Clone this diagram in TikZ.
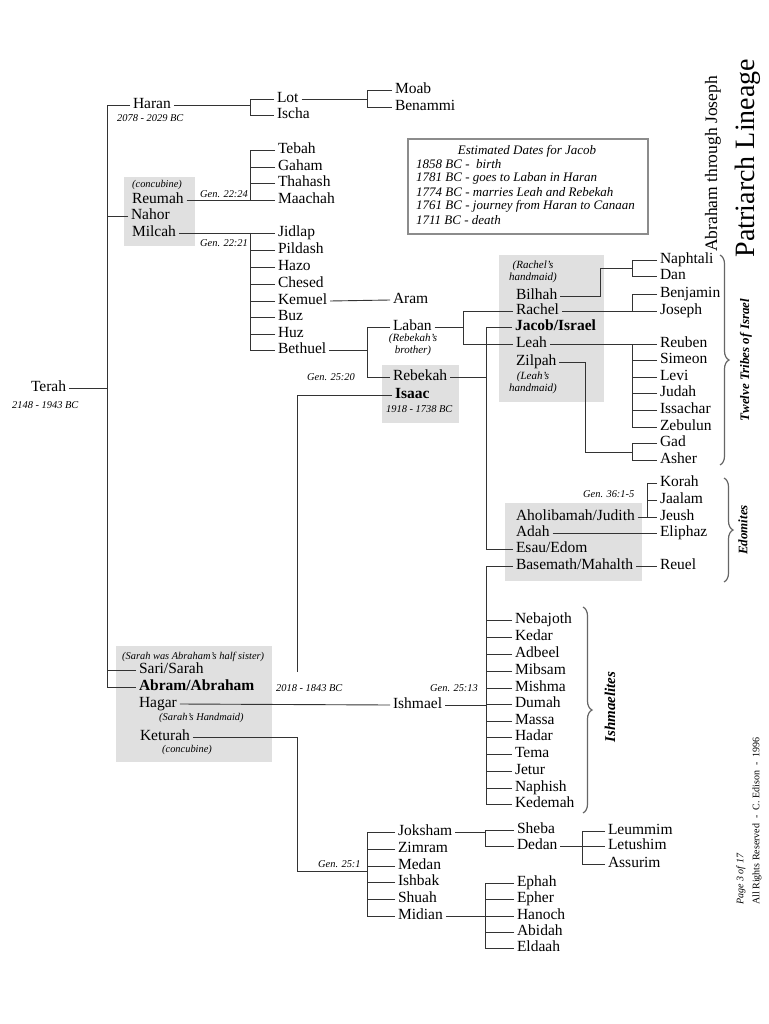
\documentclass[tikz,border=0pt]{standalone}
\usepackage{fontspec}
\setmainfont{Liberation Serif}
\usetikzlibrary{decorations.pathreplacing}
\newcommand\nmfont{\fontsize{15.5}{17}\selectfont}
\newcommand\smfont{\fontsize{10.4}{11}\selectfont\itshape}
\newcommand\mdfont{\fontsize{11}{11.5}\selectfont\itshape}
\begin{document}
\begin{tikzpicture}[x=1pt,y=-1pt,
  nm/.style={font=\nmfont,anchor=west,inner sep=0pt,outer sep=3pt,text height=11pt,text depth=4pt},
  bnm/.style={nm,font=\nmfont\bfseries},
  sm/.style={font=\smfont,anchor=west,inner sep=0pt},
  smc/.style={font=\mdfont,inner sep=0pt,align=center},
  dt/.style={font=\fontsize{13}{14}\selectfont\itshape,anchor=west,inner sep=0pt},
  ln/.style={draw=black!80,line width=0.9pt},
  gbox/.style={fill=black!12},
  brc/.style={draw=black!60,line width=1.2pt,decorate,decoration={brace,amplitude=9pt}},
  blab/.style={font=\fontsize{13}{15}\selectfont\bfseries\itshape,rotate=90,inner sep=0pt}
]
\useasboundingbox[fill=white] (0,0) rectangle (768,1024);

% grey boxes
\fill[gbox] (124,177) rectangle (195,246);
\fill[gbox] (382,365) rectangle (459,423);
\fill[gbox] (499,255) rectangle (604,402);
\fill[gbox] (505,503) rectangle (642,581);
\fill[gbox] (116,646) rectangle (272,762);

% bus x positions
\coordinate (xT) at (107,0);
\coordinate (xH) at (250,0);
\coordinate (xL) at (367,0);
\coordinate (xLa) at (463,0);
\coordinate (xJ) at (486,0);
\coordinate (xR) at (632,0);
\coordinate (xK) at (647,0);
\coordinate (xS) at (485,0);
\coordinate (xD) at (582,0);
\coordinate (isaacEnd) at (297,672);
\coordinate (bilC) at (600,268);
\coordinate (zilC) at (585,452);
\coordinate (ketC) at (297,871);

% title
\node[font=\fontsize{28}{30}\selectfont,rotate=90,inner sep=0pt] (title) at (748,158) {Patriarch Lineage};
\node[font=\fontsize{17.5}{20}\selectfont,rotate=90,inner sep=0pt] (subtitle) at (713,164) {Abraham through Joseph};

% dates box
\node[draw=black!45,line width=1.2pt,minimum width=240pt,minimum height=95pt,inner sep=0pt] (datesbox) at (528,186.5) {};
\node[font=\fontsize{13}{14}\selectfont\itshape,inner sep=0pt] (dt0) at (527,151) {Estimated Dates for Jacob};
\node[dt] (dt1) at (416,164) {1858 BC -\ \ birth};
\node[dt] (dt2) at (416,178) {1781 BC - goes to Laban in Haran};
\node[dt] (dt3) at (416,192) {1774 BC - marries Leah and Rebekah};
\node[dt] (dt4) at (416,206) {1761 BC - journey from Haran to Canaan};
\node[dt] (dt5) at (416,220) {1711 BC - death};

% Terah & Haran
\node[nm] (terah) at (28,388) {Terah};
\node[sm] (terahd) at (12,405) {2148 - 1943 BC};
\node[nm] (haran) at (130,105) {Haran};
\node[sm] (harand) at (117,118) {2078 - 2029 BC};
\node[nm] (lot) at (274,99) {Lot};
\node[nm] (ischa) at (274,115) {Ischa};
\node[nm] (moab) at (392,90) {Moab};
\node[nm] (benammi) at (392,107) {Benammi};

% Nahor
\node[sm] (conc1) at (132,185) {(concubine)};
\node[nm] (reumah) at (129,200) {Reumah};
\node[nm] (nahor) at (128,216) {Nahor};
\node[nm] (milcah) at (129,233) {Milcah};
\node[sm] (gen2224) at (200,194) {Gen. 22:24};
\node[sm] (gen2221) at (200,243) {Gen. 22:21};
\node[nm] (tebah) at (275,150) {Tebah};
\node[nm] (gaham) at (275,167) {Gaham};
\node[nm] (thahash) at (275,183) {Thahash};
\node[nm] (maachah) at (275,200) {Maachah};
\node[nm] (jidlap) at (275,233) {Jidlap};
\node[nm] (pildash) at (275,250) {Pildash};
\node[nm] (hazo) at (275,267) {Hazo};
\node[nm] (chesed) at (275,284) {Chesed};
\node[nm] (kemuel) at (275,301) {Kemuel};
\node[nm] (buz) at (275,317) {Buz};
\node[nm] (huz) at (275,334) {Huz};
\node[nm] (bethuel) at (275,350) {Bethuel};
\node[nm] (aram) at (390,300) {Aram};
\node[nm] (laban) at (390,327) {Laban};
\node[smc] (rebbro) at (413,345) {(Rebekah's\\brother)};
\node[sm] (gen2520) at (307,377) {Gen. 25:20};
\node[nm] (rebekah) at (390,377) {Rebekah};
\node[bnm] (isaac) at (392,395) {Isaac};
\node[sm] (isaacd) at (386,409) {1918 - 1738 BC};

% Jacob
\node[smc] (rachhm) at (533,272) {(Rachel's\\handmaid)};
\node[nm] (bilhah) at (513,296) {Bilhah};
\node[nm] (rachel) at (513,311) {Rachel};
\node[bnm] (jacob) at (512,327) {Jacob/Israel};
\node[nm] (leah) at (513,344) {Leah};
\node[nm] (zilpah) at (513,362) {Zilpah};
\node[smc] (leahhm) at (533,383) {(Leah's\\handmaid)};
\node[nm] (naphtali) at (657,260) {Naphtali};
\node[nm] (dan) at (657,276) {Dan};
\node[nm] (benjamin) at (657,294) {Benjamin};
\node[nm] (joseph) at (657,311) {Joseph};
\node[nm] (reuben) at (657,344) {Reuben};
\node[nm] (simeon) at (657,360) {Simeon};
\node[nm] (levi) at (657,377) {Levi};
\node[nm] (judah) at (657,393) {Judah};
\node[nm] (issachar) at (657,410) {Issachar};
\node[nm] (zebulun) at (657,427) {Zebulun};
\node[nm] (gad) at (657,443) {Gad};
\node[nm] (asher) at (657,460) {Asher};

% Esau
\node[sm] (gen3615) at (583,494) {Gen. 36:1-5};
\node[nm] (aholi) at (513,517) {Aholibamah/Judith};
\node[nm] (adah) at (513,533) {Adah};
\node[nm] (esau) at (513,549) {Esau/Edom};
\node[nm] (basemath) at (513,566) {Basemath/Mahalth};
\node[nm] (korah) at (657,483) {Korah};
\node[nm] (jaalam) at (657,500) {Jaalam};
\node[nm] (jeush) at (657,517) {Jeush};
\node[nm] (eliphaz) at (657,533) {Eliphaz};
\node[nm] (reuel) at (657,566) {Reuel};

% Ishmael
\node[nm] (nebajoth) at (512,620) {Nebajoth};
\node[nm] (kedar) at (512,637) {Kedar};
\node[nm] (adbeel) at (512,654) {Adbeel};
\node[nm] (mibsam) at (512,671) {Mibsam};
\node[nm] (mishma) at (512,688) {Mishma};
\node[nm] (dumah) at (512,704) {Dumah};
\node[nm] (massa) at (512,721) {Massa};
\node[nm] (hadar) at (512,737) {Hadar};
\node[nm] (tema) at (512,754) {Tema};
\node[nm] (jetur) at (512,771) {Jetur};
\node[nm] (naphish) at (512,788) {Naphish};
\node[nm] (kedemah) at (512,804) {Kedemah};
\node[nm] (ishmael) at (390,705) {Ishmael};
\node[sm] (gen2513) at (430,688) {Gen. 25:13};

% Abraham
\node[sm] (halfsis) at (122,657) {(Sarah was Abraham's half sister)};
\node[nm] (sarah) at (136,670) {Sari/Sarah};
\node[bnm] (abraham) at (136,687) {Abram/Abraham};
\node[nm] (hagar) at (136,704) {Hagar};
\node[sm] (sarhm) at (159,718) {(Sarah's Handmaid)};
\node[nm] (keturah) at (137,737) {Keturah};
\node[sm] (conc2) at (162,750) {(concubine)};
\node[sm] (abrd) at (276,688) {2018 - 1843 BC};

% Keturah
\node[sm] (gen251) at (318,864) {Gen. 25:1};
\node[nm] (joksham) at (395,832) {Joksham};
\node[nm] (zimram) at (395,849) {Zimram};
\node[nm] (medan) at (395,866) {Medan};
\node[nm] (ishbak) at (395,882) {Ishbak};
\node[nm] (shuah) at (395,899) {Shuah};
\node[nm] (midian) at (395,916) {Midian};
\node[nm] (sheba) at (514,830) {Sheba};
\node[nm] (dedan) at (514,846) {Dedan};
\node[nm] (leummim) at (605,831) {Leummim};
\node[nm] (letushim) at (605,846) {Letushim};
\node[nm] (assurim) at (605,864) {Assurim};
\node[nm] (ephah) at (514,883) {Ephah};
\node[nm] (epher) at (514,899) {Epher};
\node[nm] (hanoch) at (514,916) {Hanoch};
\node[nm] (abidah) at (514,932) {Abidah};
\node[nm] (eldaah) at (514,948) {Eldaah};

% braces
\draw[brc] (720,255) -- (720,465);
\node[blab] (tribes) at (746,360) {Twelve Tribes of Israel};
\draw[brc] (724,478) -- (724,582);
\node[blab] (edomites) at (743,530) {Edomites};
\draw[brc] (583,607) -- (583,813);
\node[blab,font=\fontsize{15}{17}\selectfont\bfseries\itshape] (ishmaelites) at (610,707) {Ishmaelites};

% footer
\node[font=\fontsize{10}{11}\selectfont\itshape,rotate=90,anchor=west,inner sep=0pt] (pagen) at (741,905) {Page 3 of 17};
\node[font=\fontsize{10}{11}\selectfont,rotate=90,anchor=west,inner sep=0pt] (copyr) at (757,905) {All Rights Reserved\ \ -\ \ C. Edison\ \ -\ \ 1996};

% connectors
\draw[ln] (terah.east) -- (terah.east -| xT);
\draw[ln] (haran.west) -- (haran.west -| xT) -- (abraham.west -| xT) -- (abraham.west);
\draw[ln] (nahor.west) -- (nahor.west -| xT);
\draw[ln] (sarah.west) -- (sarah.west -| xT);

\draw[ln] (haran.east) -- (haran.east -| xH);
\draw[ln] (lot.west) -- (lot.west -| xH) -- (ischa.west -| xH) -- (ischa.west);
\draw[ln] (lot.east) -- (lot.east -| xL);
\draw[ln] (moab.west) -- (moab.west -| xL) -- (benammi.west -| xL) -- (benammi.west);

\draw[ln] (reumah.east) -- (maachah.west);
\draw[ln] (tebah.west) -- (tebah.west -| xH) -- (maachah.west -| xH);
\foreach \c in {gaham,thahash} \draw[ln] (\c.west) -- (\c.west -| xH);
\draw[ln] (milcah.east) -- (jidlap.west);
\draw[ln] (jidlap.west -| xH) -- (bethuel.west -| xH) -- (bethuel.west);
\foreach \c in {pildash,hazo,chesed,kemuel,buz,huz} \draw[ln] (\c.west) -- (\c.west -| xH);
\draw[ln] (kemuel.east) -- (aram.west);
\draw[ln] (bethuel.east) -- (bethuel.east -| xL);
\draw[ln] (laban.west) -- (laban.west -| xL) -- (rebekah.west -| xL) -- (rebekah.west);

\draw[ln] (laban.east) -- (laban.east -| xLa);
\draw[ln] (rachel.west) -- (rachel.west -| xLa) -- (leah.west -| xLa) -- (leah.west);
\draw[ln] (rebekah.east) -- (rebekah.east -| xJ);
\draw[ln] (jacob.west) -- (jacob.west -| xJ) -- (esau.west -| xJ) -- (esau.west);
\draw[ln] (isaac.west) -- (isaac.west -| isaacEnd) -- (isaacEnd);

\draw[ln] (bilhah.east) -| (bilC) -- (bilC -| xR);
\draw[ln] (naphtali.west) -- (naphtali.west -| xR) -- (dan.west -| xR) -- (dan.west);
\draw[ln] (rachel.east) -- (joseph.west);
\draw[ln] (benjamin.west) -- (benjamin.west -| xR) -- (joseph.west -| xR);
\draw[ln] (leah.east) -- (reuben.west);
\draw[ln] (reuben.west -| xR) -- (zebulun.west -| xR) -- (zebulun.west);
\foreach \c in {simeon,levi,judah,issachar} \draw[ln] (\c.west) -- (\c.west -| xR);
\draw[ln] (zilpah.east) -| (zilC) -- (zilC -| xR);
\draw[ln] (gad.west) -- (gad.west -| xR) -- (asher.west -| xR) -- (asher.west);

\draw[ln] (aholi.east) -- (jeush.west);
\draw[ln] (korah.west) -- (korah.west -| xK) -- (jeush.west -| xK);
\draw[ln] (jaalam.west) -- (jaalam.west -| xK);
\draw[ln] (adah.east) -- (eliphaz.west);
\draw[ln] (basemath.east) -- (reuel.west);

\draw[ln] (basemath.west) -- (basemath.west -| xJ) -- (kedemah.west -| xJ) -- (kedemah.west);
\foreach \c in {nebajoth,kedar,adbeel,mibsam,mishma,dumah,massa,hadar,tema,jetur,naphish} \draw[ln] (\c.west) -- (\c.west -| xJ);
\draw[ln] (ishmael.east) -- (ishmael.east -| xJ);
\draw[ln] (hagar.east) -- (ishmael.west);

\draw[ln] (keturah.east) -| (ketC) -- (ketC -| xL);
\draw[ln] (joksham.west) -- (joksham.west -| xL) -- (midian.west -| xL) -- (midian.west);
\foreach \c in {zimram,medan,ishbak,shuah} \draw[ln] (\c.west) -- (\c.west -| xL);
\draw[ln] (joksham.east) -- (joksham.east -| xS);
\draw[ln] (sheba.west) -- (sheba.west -| xS) -- (dedan.west -| xS) -- (dedan.west);
\draw[ln] (dedan.east) -- (letushim.west);
\draw[ln] (leummim.west) -- (leummim.west -| xD) -- (assurim.west -| xD) -- (assurim.west);
\draw[ln] (midian.east) -- (hanoch.west);
\draw[ln] (ephah.west) -- (ephah.west -| xS) -- (eldaah.west -| xS) -- (eldaah.west);
\foreach \c in {epher,abidah} \draw[ln] (\c.west) -- (\c.west -| xS);
\end{tikzpicture}
\end{document}
